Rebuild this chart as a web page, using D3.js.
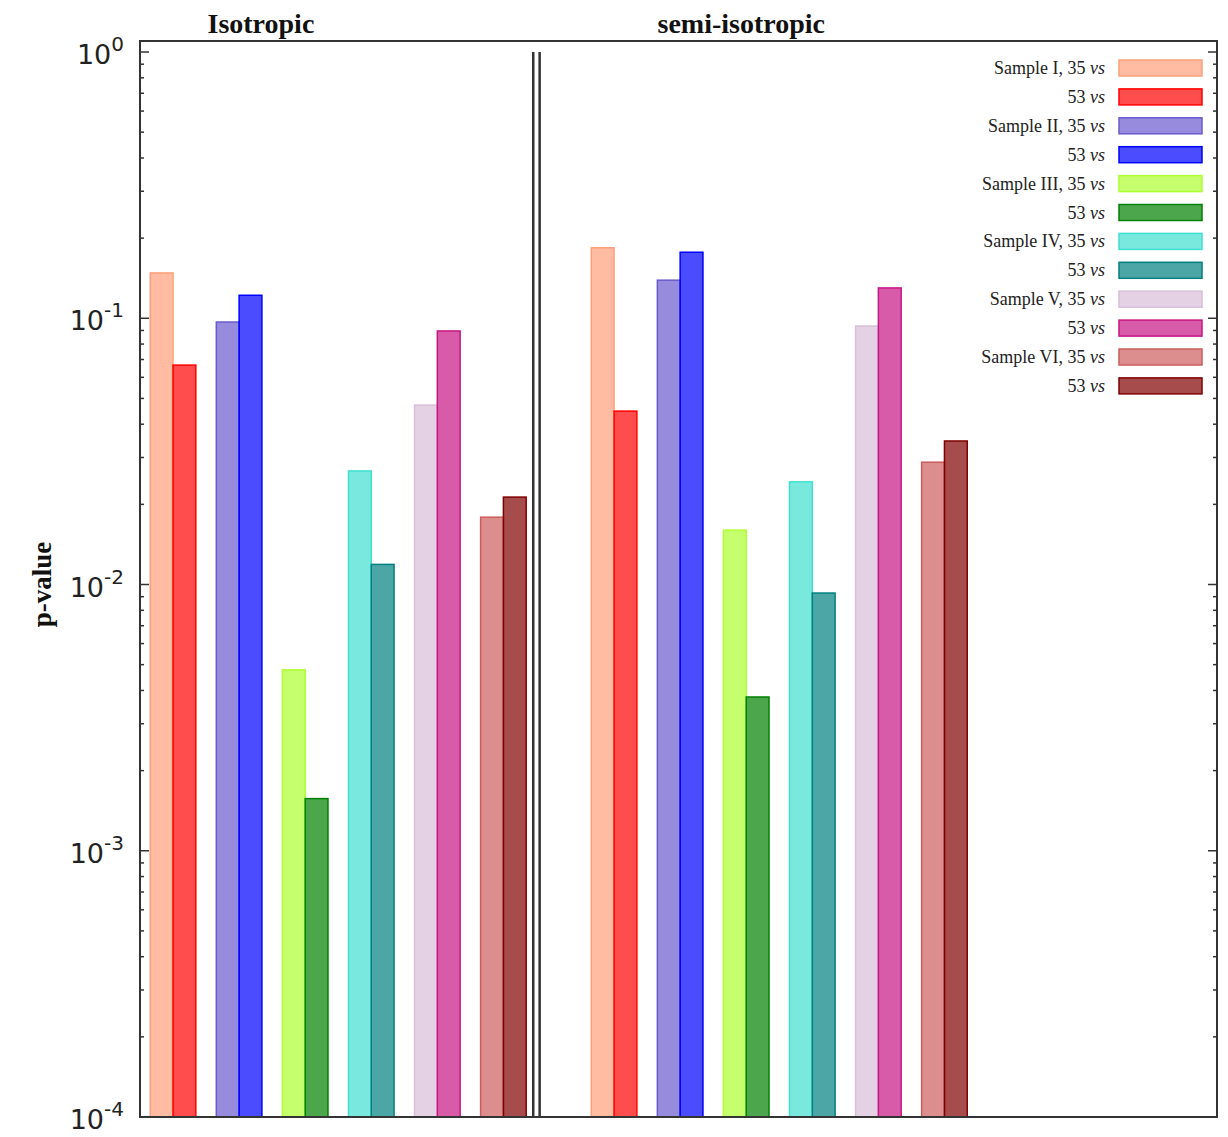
<!DOCTYPE html>
<html>
<head>
<meta charset="utf-8">
<script src="https://cdn.jsdelivr.net/npm/d3@7"></script>
<style>
  body { margin: 0; background: #fff; }
  svg { display: block; }
</style>
</head>
<body>
<svg id="chart" width="1228" height="1137"></svg>
<script>
// ---- data ----
var samples = ["I", "II", "III", "IV", "V", "VI"];
var groups = ["Isotropic", "semi-isotropic"];
var iso35  = [0.148, 0.0968, 0.00478, 0.0267, 0.0472, 0.0179];
var iso53  = [0.0667, 0.122, 0.00157, 0.0119, 0.0896, 0.0213];
var semi35 = [0.184, 0.139, 0.0160, 0.0243, 0.0935, 0.0288];
var semi53 = [0.0448, 0.177, 0.00378, 0.00929, 0.130, 0.0346];
var colors35 = ["#FFA07A", "#6A5ACD", "#ADFF2F", "#40E0D0", "#D8BFD8", "#CD5C5C"];
var colors53 = ["#FF0000", "#0000FF", "#008000", "#008080", "#C71585", "#800000"];
var majorTicks = [1e-4, 1e-3, 1e-2, 1e-1, 1e0];
var tickExp = ["-4", "-3", "-2", "-1", "0"];

var margin = {left: 140, top: 41, right: 11, bottom: 20};
var W = 1228, H = 1137;
var svg = d3.select("#chart");

var x = d3.scaleLinear().domain([-0.5, 15.8]).range([margin.left, W - margin.right]);
var y = d3.scaleLog().domain([1e-4, 1.1]).range([H - margin.bottom, margin.top]);

var groupOffset = [0, 6.675];
var bw = 0.345;

// bars
var bars = [];
samples.forEach(function(s, i) {
  bars.push({u: groupOffset[0] + i - bw, v: iso35[i], c: colors35[i]});
  bars.push({u: groupOffset[0] + i,      v: iso53[i], c: colors53[i]});
  bars.push({u: groupOffset[1] + i - bw, v: semi35[i], c: colors35[i]});
  bars.push({u: groupOffset[1] + i,      v: semi53[i], c: colors53[i]});
});

svg.append("g").selectAll("rect").data(bars).enter().append("rect")
  .attr("x", function(d) { return x(d.u); })
  .attr("width", x(bw) - x(0))
  .attr("y", function(d) { return y(d.v); })
  .attr("height", function(d) { return y(1e-4) - y(d.v); })
  .attr("fill", function(d) { return d.c; })
  .attr("fill-opacity", 0.7)
  .attr("stroke", function(d) { return d.c; })
  .attr("stroke-width", 1.5);

// separator between the two histograms
[-3.2, 3.2].forEach(function(off) {
  svg.append("line")
    .attr("x1", x(5.5) + off).attr("x2", x(5.5) + off)
    .attr("y1", y(1)).attr("y2", y(1e-4))
    .attr("stroke", "#333").attr("stroke-width", 2.5);
});

// ticks (mirrored on both sides, pointing inward)
var minor = [];
for (var k = -4; k < 0; k++) {
  for (var m = 2; m <= 9; m++) minor.push(m * Math.pow(10, k));
}
var xl = x.range()[0], xr = x.range()[1];
var tk = svg.append("g").attr("stroke", "#333").attr("stroke-width", 1.5);
majorTicks.forEach(function(v) {
  tk.append("line").attr("x1", xl).attr("x2", xl + 9).attr("y1", y(v)).attr("y2", y(v));
  tk.append("line").attr("x1", xr).attr("x2", xr - 9).attr("y1", y(v)).attr("y2", y(v));
});
minor.forEach(function(v) {
  tk.append("line").attr("x1", xl).attr("x2", xl + 4).attr("y1", y(v)).attr("y2", y(v));
  tk.append("line").attr("x1", xr).attr("x2", xr - 4).attr("y1", y(v)).attr("y2", y(v));
});

// frame
svg.append("rect")
  .attr("x", xl).attr("y", margin.top)
  .attr("width", xr - xl).attr("height", H - margin.bottom - margin.top)
  .attr("fill", "none").attr("stroke", "#333").attr("stroke-width", 2);

// tick labels 10^k
majorTicks.forEach(function(v, i) {
  var t = svg.append("text")
    .attr("x", 124).attr("y", y(v) + 12)
    .attr("text-anchor", "end")
    .attr("font-family", "DejaVu Sans, sans-serif")
    .attr("font-size", 27).attr("fill", "#222");
  t.append("tspan").text("10");
  t.append("tspan").attr("dy", -13).attr("font-size", 20).text(tickExp[i]);
});

// axis title
svg.append("text")
  .attr("transform", "translate(51," + y(0.01) + ") rotate(-90)")
  .attr("text-anchor", "middle")
  .attr("font-family", "Liberation Serif, serif")
  .attr("font-weight", "bold").attr("font-size", 27).attr("fill", "#111")
  .text("p-value");

// group titles
var titleU = [1.33, 8.6];
groups.forEach(function(g, i) {
  svg.append("text")
    .attr("x", x(titleU[i])).attr("y", 33)
    .attr("text-anchor", "middle")
    .attr("font-family", "Liberation Serif, serif")
    .attr("font-weight", "bold").attr("font-size", 28).attr("fill", "#111")
    .text(g);
});

// legend
var legend = [];
samples.forEach(function(s, i) {
  legend.push({pre: "Sample " + s + ", 35 ", c: colors35[i]});
  legend.push({pre: "53 ", c: colors53[i]});
});
var lg = svg.append("g").selectAll("g").data(legend).enter().append("g")
  .attr("transform", function(d, i) { return "translate(0," + (68 + i * 28.9) + ")"; });
lg.append("rect")
  .attr("x", 1119).attr("y", -8).attr("width", 83).attr("height", 16)
  .attr("fill", function(d) { return d.c; }).attr("fill-opacity", 0.7)
  .attr("stroke", function(d) { return d.c; }).attr("stroke-width", 1.5);
var lt = lg.append("text")
  .attr("x", 1105).attr("y", 6)
  .attr("text-anchor", "end")
  .attr("font-family", "Liberation Serif, serif")
  .attr("font-size", 18).attr("fill", "#222");
lt.append("tspan").text(function(d) { return d.pre; });
lt.append("tspan").attr("font-style", "italic").text("vs");
</script>
</body>
</html>
